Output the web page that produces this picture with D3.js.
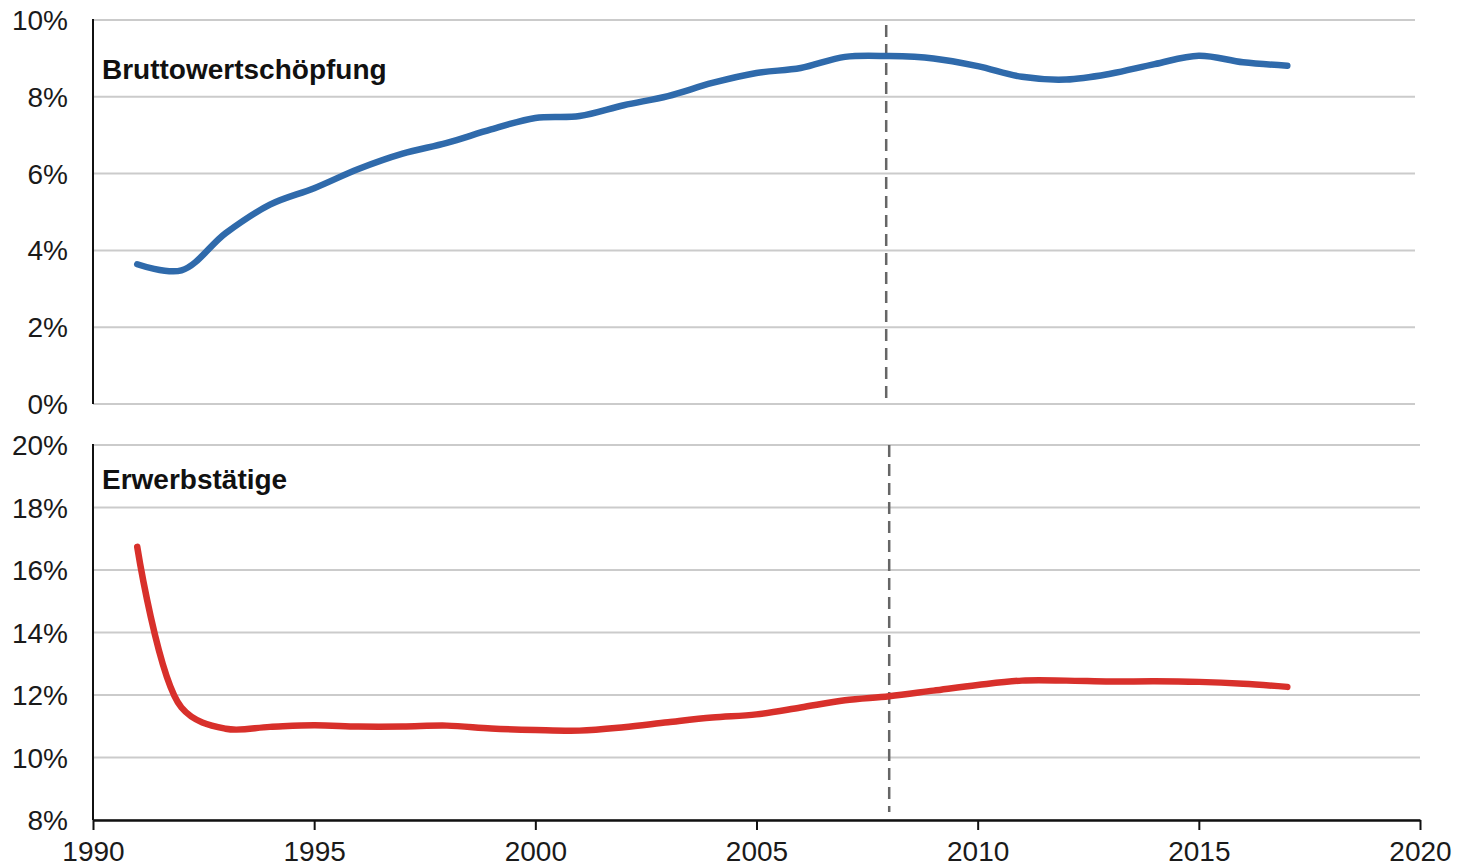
<!DOCTYPE html>
<html>
<head>
<meta charset="utf-8">
<script src="https://cdn.jsdelivr.net/npm/d3@7"></script>
<style>
  body { margin: 0; background: #fff; }
  text { font-family: "Liberation Sans", Arial, sans-serif; }
</style>
</head>
<body>
<svg id="drawspace" width="1470" height="866"></svg>
<script>
let years = d3.range(1991, 2018);
let bws = [3.64, 3.48, 4.45, 5.19, 5.62, 6.12, 6.52, 6.8, 7.15, 7.45, 7.5, 7.78, 8.02, 8.36, 8.62, 8.75, 9.04, 9.06, 9.0, 8.8, 8.52, 8.45, 8.6, 8.85, 9.07, 8.9, 8.81];
let erw = [16.74, 11.6, 10.92, 10.98, 11.03, 10.99, 10.99, 11.02, 10.93, 10.88, 10.86, 10.97, 11.13, 11.28, 11.38, 11.6, 11.83, 11.96, 12.14, 12.32, 12.46, 12.46, 12.43, 12.44, 12.42, 12.36, 12.26];
let topTicks = [0, 2, 4, 6, 8, 10];
let botTicks = [8, 10, 12, 14, 16, 18, 20];
let xTicks = [1990, 1995, 2000, 2005, 2010, 2015, 2020];
let breakYear = 2008;

let ds = d3.select("#drawspace");
let x0 = 93, x1 = 1420;
let xscale = d3.scaleLinear().domain([1990, 2020]).range([x0, x1]);
let ytop = d3.scaleLinear().domain([0, 10]).range([404, 20]);
let ybot = d3.scaleLinear().domain([8, 20]).range([820, 445]);

function panel(yscale, ticks, gridEnd, label, labelY, values, color, dashRange, gx) {
  let g = ds.append("g");
  // gridlines
  g.selectAll(".grid").data(ticks).enter().append("line")
    .attr("x1", x0).attr("x2", gridEnd)
    .attr("y1", d => yscale(d)).attr("y2", d => yscale(d))
    .attr("stroke", "#cbcbcb").attr("stroke-width", 2);
  // tick labels
  g.selectAll(".lab").data(ticks).enter().append("text")
    .attr("x", 68).attr("y", d => yscale(d)).attr("dy", "0.36em")
    .attr("text-anchor", "end").attr("font-size", 28).attr("fill", "#1a1a1a")
    .text(d => d + "%");
  // y axis line
  g.append("line").attr("x1", x0).attr("x2", x0)
    .attr("y1", yscale(ticks[ticks.length - 1]) - 1).attr("y2", yscale(ticks[0]))
    .attr("stroke", "#111").attr("stroke-width", 2);
  // dashed line
  g.append("line").attr("x1", gx).attr("x2", gx)
    .attr("y1", dashRange[0]).attr("y2", dashRange[1])
    .attr("stroke", "#666").attr("stroke-width", 2.5).attr("stroke-dasharray", "12,7");
  // data line
  let line = d3.line().x((d, i) => xscale(years[i])).y(d => yscale(d)).curve(d3.curveCatmullRom.alpha(0.5));
  g.append("path").datum(values).attr("d", line)
    .attr("fill", "none").attr("stroke", color).attr("stroke-width", 6.5)
    .attr("stroke-linecap", "round").attr("stroke-linejoin", "round");
  g.append("text").attr("x", 102).attr("y", labelY)
    .attr("font-size", 28).attr("font-weight", "bold").attr("fill", "#111")
    .text(label);
}

panel(ytop, topTicks, 1415, "Bruttowertschöpfung", 79, bws, "#2f6aab", [25, 398], xscale(breakYear) - 3);
panel(ybot, botTicks, 1420, "Erwerbstätige", 489, erw, "#d8302b", [445, 812], xscale(breakYear));

// x axis
let xa = ds.append("g").attr("transform", "translate(0,820)")
  .call(d3.axisBottom(xscale).tickValues(xTicks).tickFormat(d3.format("d")).tickSize(10).tickSizeOuter(0));
xa.select(".domain").attr("stroke", "#111").attr("stroke-width", 2.5);
xa.selectAll(".tick line").attr("stroke", "#111").attr("stroke-width", 2);
xa.selectAll(".tick text").attr("font-size", 28).attr("fill", "#1a1a1a")
  .attr("font-family", "Liberation Sans, Arial, sans-serif").attr("y", 21);
</script>
</body>
</html>
